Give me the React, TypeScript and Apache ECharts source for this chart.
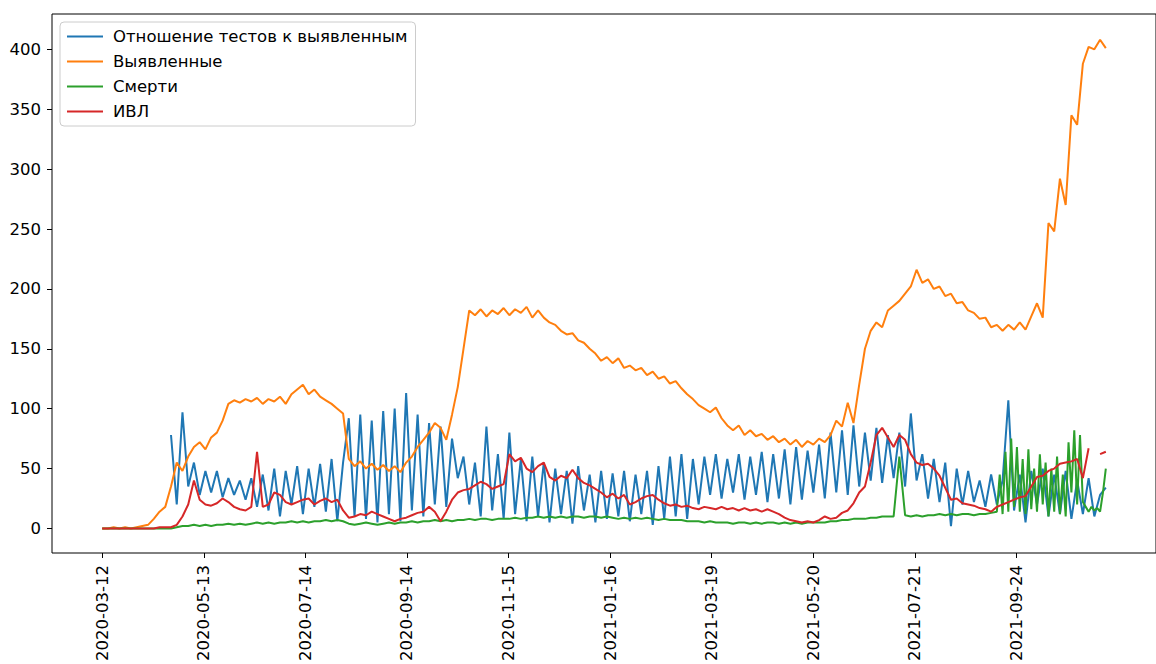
import React, { useEffect, useRef } from "react";
import * as echarts from "echarts";

// Day index step between samples (days)
const STEP = 3.5;
const LATE_STEP = 1.75;
const LATE_START = 546;

const tickLabels = [
  "2020-03-12", "2020-05-13", "2020-07-14", "2020-09-14", "2020-11-15",
  "2021-01-16", "2021-03-19", "2021-05-20", "2021-07-21", "2021-09-24",
];
const TICK_EVERY = 62;
const yTicks = [0, 50, 100, 150, 200, 250, 300, 350, 400];

const seriesNames = ["Отношение тестов к выявленным", "Выявленные", "Смерти", "ИВЛ"];
const colors = ["#1f77b4", "#ff7f0e", "#2ca02c", "#d62728"];

const blueValues: (number | null)[] = [
  null, null, null, null, null, null, null, null, null, null, null, null,
  78, 20, 97, 35, 55, 28, 48, 30,
  48, 26, 42, 28, 40, 24, 42, 18, 45, 15,
  50, 10, 48, 20, 52, 12, 50, 18, 54, 14,
  58, 6, 55, 92, 10, 95, 8, 90, 5, 98,
  12, 100, 6, 113, 15, 95, 10, 88, 20, 85,
  18, 75, 42, 60, 20, 55, 10, 85, 15, 62,
  8, 80, 12, 58, 6, 60, 10, 55, 5, 50,
  12, 48, 4, 52, 15, 45, 5, 48, 8, 46,
  10, 48, 6, 45, 12, 48, 3, 52, 8, 60,
  10, 62, 8, 58, 20, 60, 28, 62, 25, 58,
  30, 62, 24, 60, 28, 64, 22, 62, 25, 66,
  20, 68, 24, 65, 30, 70, 25, 80, 30, 82,
  28, 86, 35, 80, 40, 84, 38, 78, 42, 80,
  35, 96, 40, 62, 25, 58, 22, 55, 2, 50,
  20, 48, 22, 40, 18, 45, 20, 40, 107, 15,
  45, 5, 48, 20, 50, 10, 45, 12, 48, 8,
  40, 12, 42, 10, 28, 34,
];

const orangeValues: number[] = [
  0, 0, 1, 0, 1, 0, 1, 2,
  3, 8, 14, 18,
  35, 55, 48, 60, 68, 72, 66, 76,
  80, 90, 104, 107, 105, 108, 106, 109, 104, 108,
  106, 110, 104, 112, 116, 120, 112, 116, 110, 107,
  104, 100, 96, 58, 52, 56, 50, 54, 49, 53,
  48, 52, 47, 55, 60, 68, 74, 80, 88, 84,
  74, 95, 118, 150, 182, 178, 183, 177, 182, 179,
  184, 178, 183, 180, 185, 176, 182, 176, 172, 170,
  165, 162, 163, 157, 155, 150, 146, 140, 143, 138,
  142, 134, 136, 132, 134, 128, 131, 125, 127, 121,
  123, 117, 112, 108, 103, 100, 97, 101, 92, 86,
  82, 86, 78, 82, 77, 79, 74, 77, 72, 75,
  70, 74, 68, 73, 70, 75, 72, 78, 90, 85,
  105, 88, 120, 150, 165, 172, 168, 182, 186, 190,
  196, 202, 216, 205, 208, 200, 202, 194, 196, 188,
  189, 182, 180, 175, 176, 168, 170, 165, 170, 166,
  172, 166, 177, 188, 176, 255, 248, 292, 270, 345,
  337, 388, 402, 400, 408, 401,
];

const greenEarly: number[] = [
  0, 0, 0, 0, 0, 0, 0, 0, 0, 0, 0, 0, 0,
  1, 2, 2, 3, 2, 3, 2, 3,
  3, 4, 3, 4, 3, 4, 5, 4, 5, 4, 5, 5, 6, 5, 6,
  5, 6, 6, 7, 6, 7, 6,
  4, 3, 4, 5, 4, 3, 4, 5, 4, 5,
  5, 6, 5, 6, 6, 7, 6, 7,
  6, 7, 7, 8, 7, 8, 8, 7, 8, 8,
  8, 9, 8, 9, 9, 10, 9, 10, 9, 10, 9, 10, 10, 9, 10,
  10, 9, 10, 9, 8, 9, 8, 9, 8, 9, 8, 7, 8, 7, 7,
  7, 6, 6, 6, 5, 6, 5, 5, 5, 4, 5, 5, 4, 5, 4, 5, 5, 4, 5, 4, 5, 4, 5, 5, 5,
  5, 6, 6, 7, 7, 8, 8, 8, 9, 9, 10, 10, 10,
  60,
  11, 10, 11, 10, 11, 11, 12, 11, 12, 11, 12, 12, 11, 12, 12, 13,
];

const greenLate: number[] = [
  14, 45, 12, 64, 14, 75, 18, 68, 14, 58,
  12, 66, 16, 50, 14, 62, 20, 55, 10, 50,
  14, 60, 12, 45, 10, 72, 30, 82, 20, 78,
  22, 18, 14, 18, 15, 17, 14, 30, 50,
];

const redValues: (number | null)[] = [
  0, 0, 0, 0, 0, 0, 0, 0, 0, 0,
  1, 1, 1,
  3, 10, 20, 40, 24, 20, 19,
  21, 25, 22, 18, 16, 15, 18, 64, 18, 20,
  30, 28, 22, 20, 22, 24, 25, 20, 23, 25,
  22, 24, 15, 9, 10, 12, 11, 14, 12, 10,
  8, 6, 8, 9, 11, 13, 14, 18, 14, 6,
  14, 24, 30, 32, 33, 36, 39, 37, 33, 35,
  37, 62, 56, 59, 50, 47, 52, 55, 43, 40,
  44, 42, 49, 42, 38, 36, 33, 30, 26, 29,
  25, 28, 20, 22, 25, 27, 28, 24, 21, 19,
  20, 18, 19, 17, 16, 18, 17, 16, 18, 16,
  17, 15, 17, 15, 16, 14, 16, 14, 12, 9,
  7, 6, 5, 6, 5, 7, 10, 8, 9, 13,
  15, 21, 30, 35, 55, 78, 84, 76, 68, 78,
  74, 62, 55, 53, 54, 50, 44, 34, 24, 25,
  21, 20, 19, 17, 16, 14, 18, 20, 22, 24,
  26, 27, 35, 43, 44, 48, 50, 54, 55, 56,
  58, 42, 67, null, 62, 64,
];

const toPairs = (values: (number | null)[], step: number, start = 0) =>
  values.map((v, k) => [start + k * step, v]);

export default function App() {
  const ref = useRef<HTMLDivElement>(null);

  useEffect(() => {
    if (!ref.current) return;
    const chart = echarts.init(ref.current, undefined, { renderer: "svg" });
    const font = "DejaVu Sans";
    const fs = 16.5;
    const tickDays = tickLabels.map((_, k) => k * TICK_EVERY);
    const lastDay = (orangeValues.length - 1) * STEP;
    const pad = lastDay * 0.05;

    const seriesData = [
      toPairs(blueValues, STEP),
      toPairs(orangeValues, STEP),
      [...toPairs(greenEarly, STEP), ...toPairs(greenLate, LATE_STEP, LATE_START)],
      toPairs(redValues, STEP),
    ];

    chart.setOption({
      animation: false,
      backgroundColor: "#ffffff",
      textStyle: { fontFamily: font },
      grid: {
        left: 52,
        top: 14,
        width: 1108,
        height: 539,
        show: true,
        borderColor: "#000",
        borderWidth: 1,
        backgroundColor: "transparent",
      },
      legend: {
        orient: "vertical",
        left: 60,
        top: 22,
        padding: [6, 8, 6, 7],
        icon: "rect",
        itemWidth: 36,
        itemHeight: 2,
        itemGap: 8,
        borderColor: "#cccccc",
        borderWidth: 1,
        borderRadius: 4,
        backgroundColor: "rgba(255,255,255,0.8)",
        textStyle: {
          fontFamily: font,
          fontSize: fs,
          lineHeight: 14,
          color: "#000",
          padding: [0, 0, 0, 5],
        },
        data: seriesNames,
      },
      xAxis: {
        type: "value",
        min: -pad,
        max: lastDay + pad,
        axisLine: { show: false, onZero: false },
        splitLine: { show: false },
        axisTick: {
          show: true,
          customValues: tickDays,
          length: 5,
          lineStyle: { color: "#000" },
        },
        axisLabel: {
          customValues: tickDays,
          rotate: 90,
          margin: 12,
          fontSize: fs,
          color: "#000",
          fontFamily: font,
          formatter: (v: number) => tickLabels[Math.round(v / TICK_EVERY)] ?? "",
        },
      },
      yAxis: {
        type: "value",
        min: -20.5,
        max: 429.5,
        axisLine: { show: false, onZero: false },
        splitLine: { show: false },
        axisTick: {
          show: true,
          customValues: yTicks,
          length: 5,
          lineStyle: { color: "#000" },
        },
        axisLabel: {
          customValues: yTicks,
          margin: 11,
          fontSize: fs,
          color: "#000",
          fontFamily: font,
        },
      },
      series: seriesNames.map((name, s) => ({
        name,
        type: "line",
        data: seriesData[s],
        symbol: "none",
        showSymbol: false,
        connectNulls: false,
        color: colors[s],
        lineStyle: { width: 2, color: colors[s] },
      })),
    });

    return () => chart.dispose();
  }, []);

  return (
    <div
      ref={ref}
      style={{ position: "fixed", left: 0, top: 0, width: 1156, height: 664 }}
    />
  );
}
